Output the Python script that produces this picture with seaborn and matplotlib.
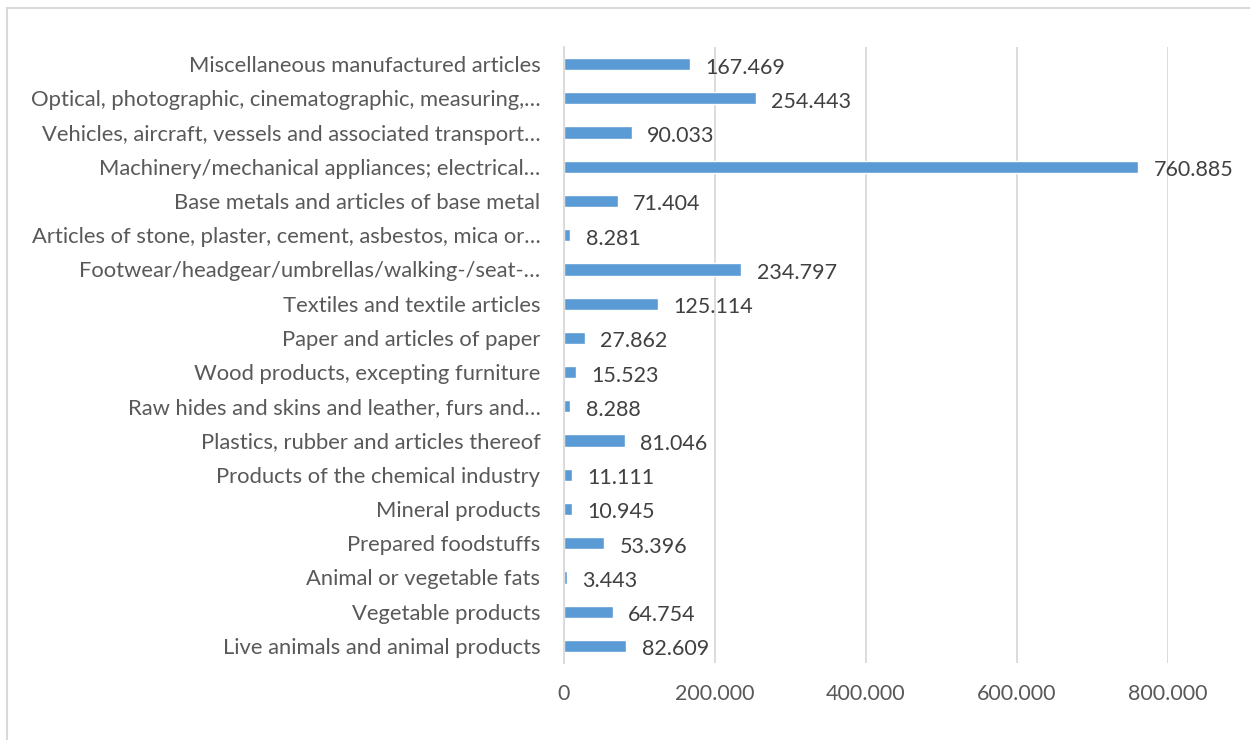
import matplotlib
matplotlib.use("Agg")
import matplotlib.pyplot as plt
from matplotlib.patches import Rectangle
import seaborn as sns
import pandas as pd

categories = [
    "Miscellaneous manufactured articles",
    "Optical, photographic, cinematographic, measuring,\u2026",
    "Vehicles, aircraft, vessels and associated transport\u2026",
    "Machinery/mechanical appliances; electrical\u2026",
    "Base metals and articles of base metal",
    "Articles of stone, plaster, cement, asbestos, mica or\u2026",
    "Footwear/headgear/umbrellas/walking-/seat-\u2026",
    "Textiles and textile articles",
    "Paper and articles of paper",
    "Wood products, excepting furniture",
    "Raw hides and skins and leather, furs and\u2026",
    "Plastics, rubber and articles thereof",
    "Products of the chemical industry",
    "Mineral products",
    "Prepared foodstuffs",
    "Animal or vegetable fats",
    "Vegetable products",
    "Live animals and animal products",
]
values = [167469, 254443, 90033, 760885, 71404, 8281, 234797, 125114,
          27862, 15523, 8288, 81046, 11111, 10945, 53396, 3443, 64754, 82609]
x_ticks = [0, 200000, 400000, 600000, 800000]

df = pd.DataFrame({"category": categories, "value": values})

sns.set_theme(style="white")
plt.rcParams["font.family"] = ["Lato", "DejaVu Sans"]
text_color = "#595959"
bar_color = "#5B9BD5"


def dotted(v):
    return "0" if v == 0 else f"{v:,}".replace(",", ".")


fig = plt.figure(figsize=(12.5, 7.4), dpi=100)
ax = fig.add_axes([564 / 1250, 1 - 663 / 740, (1168 - 564) / 1250, (663 - 47) / 740])

sns.barplot(data=df, x="value", y="category", orient="h", color=bar_color,
            saturation=1, width=0.36, ax=ax)

ax.set_xlim(0, 800000)
ax.set_ylim(len(categories) - 0.5, -0.5)
ax.set_xticks(x_ticks)
ax.set_xticklabels([dotted(t) for t in x_ticks])
ax.set_xlabel("")
ax.set_ylabel("")

ax.grid(axis="x", color="#D9D9D9", linewidth=1.3)
ax.grid(axis="y", visible=False)
ax.set_axisbelow(True)
for side in ["top", "right", "bottom"]:
    ax.spines[side].set_visible(False)
ax.spines["left"].set_color("#D9D9D9")
ax.spines["left"].set_linewidth(1.3)

ax.tick_params(axis="y", length=0, pad=17, labelsize=15.8, labelcolor=text_color)
ax.tick_params(axis="x", length=0, pad=15, labelsize=15.5, labelcolor=text_color)

for i, v in enumerate(values):
    ax.annotate(dotted(v), xy=(v, i), xytext=(11, -2.5), textcoords="offset points",
                ha="left", va="center", fontsize=15.5, color="#404040")

# light outer frame
fig.patches.append(Rectangle((7 / 1250, -0.05), 1.2, 1.05 - 8 / 740,
                             transform=fig.transFigure, fill=False,
                             edgecolor="#D9D9D9", linewidth=1.5))

fig.savefig("out.png", dpi=100, facecolor="white")
